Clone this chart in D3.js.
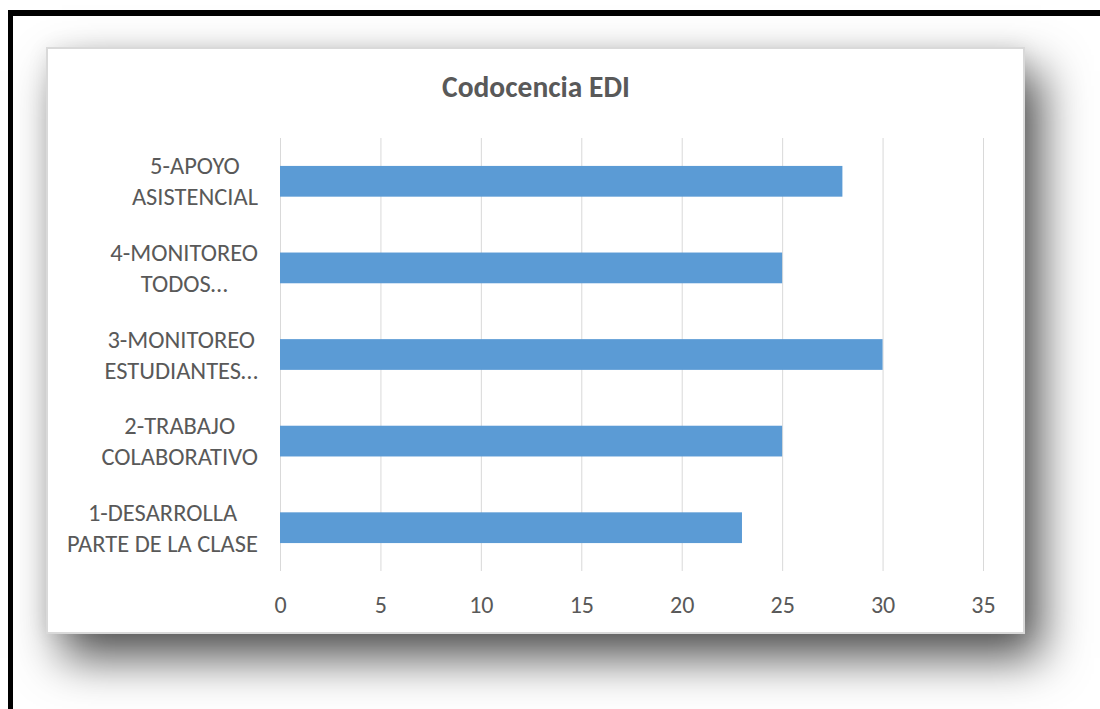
<!DOCTYPE html>
<html>
<head>
<meta charset="utf-8">
<script src="https://cdn.jsdelivr.net/npm/d3@7"></script>
<style>
  html, body { margin: 0; padding: 0; background: #fff; }
  body { width: 1100px; height: 709px; position: relative; overflow: hidden; }
  .frame {
    position: absolute; left: 8px; top: 10px; width: 1200px; height: 800px;
    border-top: 6px solid #000; border-left: 5px solid #000; box-sizing: border-box;
  }
  .card {
    position: absolute; left: 46px; top: 47px; width: 979px; height: 587px;
    background: #fff; border: 2px solid #d9d9d9; box-sizing: border-box;
    box-shadow: 0 0 20px rgba(0,0,0,0.07), 16px 24px 44px rgba(0,0,0,0.68);
  }
  svg { position: absolute; left: 0; top: 0; }
  text { font-family: Carlito, Calibri, "Open Sans", sans-serif; fill: #595959; }
</style>
</head>
<body>
<div class="frame"></div>
<div class="card"></div>
<svg class="chart" width="1100" height="709"></svg>
<script>
// Codocencia EDI - horizontal bars

const categories = [
  ["1-DESARROLLA", "PARTE DE LA CLASE"],
  ["2-TRABAJO", "COLABORATIVO"],
  ["3-MONITOREO", "ESTUDIANTES…"],
  ["4-MONITOREO", "TODOS…"],
  ["5-APOYO", "ASISTENCIAL"]
];
const values = [23, 25, 30, 25, 28];
const xTicks = [0, 5, 10, 15, 20, 25, 30, 35];
const title = "Codocencia EDI";

const svg = d3.select(".chart");

const plot = { left: 280, right: 983, top: 138, bottom: 571 };

const x = d3.scaleLinear().domain([0, 35]).range([plot.left, plot.right]);

// top to bottom: 5 ... 1
const keys = categories.map((c, i) => i).reverse();
const y = d3
  .scaleBand()
  .domain(keys)
  .range([plot.top, plot.bottom])
  .paddingInner(0.645)
  .paddingOuter(0.3225);

// Title
svg
  .append("text")
  .attr("x", 536)
  .attr("y", 97)
  .attr("text-anchor", "middle")
  .style("font-size", "29.5px")
  .style("font-weight", "bold")
  .text(title);

// Gridlines
svg
  .append("g")
  .attr("transform", `translate(0,${plot.bottom})`)
  .call(
    d3.axisBottom(x)
      .tickValues(xTicks)
      .tickSize(-(plot.bottom - plot.top))
      .tickFormat("")
  )
  .call((g) => g.select(".domain").remove())
  .call((g) => g.selectAll("line").attr("stroke", "#d9d9d9").attr("stroke-width", 1));

// Bars
svg
  .append("g")
  .selectAll("rect")
  .data(keys)
  .join("rect")
  .attr("x", x(0))
  .attr("y", (k) => y(k))
  .attr("width", (k) => x(values[k]) - x(0))
  .attr("height", y.bandwidth())
  .attr("fill", "#5b9bd5");

// X tick labels
const xAxis = svg
  .append("g")
  .attr("transform", `translate(0,${plot.bottom})`)
  .call(d3.axisBottom(x).tickValues(xTicks).tickSize(0).tickPadding(0));
xAxis.select(".domain").remove();
xAxis.attr("font-family", null).attr("font-size", null);
xAxis
  .selectAll("text")
  .attr("dy", null)
  .attr("y", 42)
  .attr("fill", null)
  .style("font-size", "24px");

// Category labels (two lines, centered block, right-aligned to axis)
const labelRight = 258;
const lab = svg.append("g");
keys.forEach((k) => {
  const cy = y(k) + y.bandwidth() / 2;
  const g = lab.append("g");
  const lines = categories[k].map((s, i) =>
    g
      .append("text")
      .attr("text-anchor", "middle")
      .attr("y", cy + (i === 0 ? -15.5 : 15.5))
      .attr("dy", "0.35em")
      .style("font-size", "24.5px")
      .text(s)
  );
  const w = d3.max(lines, (t) => t.node().getComputedTextLength());
  lines.forEach((t) => t.attr("x", labelRight - w / 2));
});
</script>
</body>
</html>
